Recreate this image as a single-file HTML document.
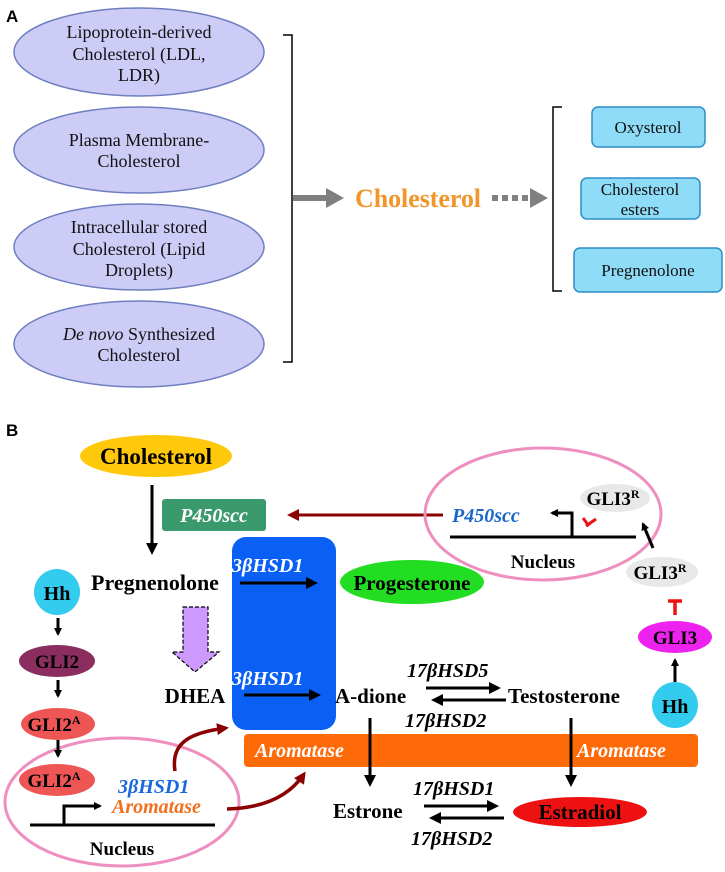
<!DOCTYPE html>
<html><head><meta charset="utf-8"><style>body{margin:0;background:#fff}svg{display:block}</style></head><body>
<svg width="725" height="872" viewBox="0 0 725 872" xmlns="http://www.w3.org/2000/svg">
<defs>
<marker id="ab" markerWidth="8" markerHeight="8" refX="6" refY="4" orient="auto" markerUnits="userSpaceOnUse"><path d="M0,0 L8,4 L0,8 z" fill="#000"/></marker>
<marker id="ar" markerWidth="12" markerHeight="12" refX="9" refY="6" orient="auto" markerUnits="userSpaceOnUse"><path d="M0,0 L12,6 L0,12 z" fill="#8b0000"/></marker>
<marker id="ak" markerWidth="12" markerHeight="12" refX="9" refY="6" orient="auto" markerUnits="userSpaceOnUse"><path d="M0,0 L12,6 L0,12 z" fill="#000"/></marker>
</defs>
<g font-family="Liberation Sans, sans-serif" font-weight="bold" font-size="17"><text x="6" y="22">A</text><text x="6" y="436">B</text></g>
<g fill="#ccccf7" stroke="#6f7fc0" stroke-width="1.5">
<ellipse cx="139" cy="52" rx="125" ry="44"/><ellipse cx="139" cy="150" rx="125" ry="43"/><ellipse cx="139" cy="247" rx="125" ry="43"/><ellipse cx="139" cy="344" rx="125" ry="43"/>
</g>
<g font-family="Liberation Serif, serif" font-size="18" text-anchor="middle" fill="#111">
<text x="139" y="38">Lipoprotein-derived</text><text x="139" y="60">Cholesterol (LDL,</text><text x="139" y="81">LDR)</text>
<text x="139" y="146">Plasma Membrane-</text><text x="139" y="167">Cholesterol</text>
<text x="139" y="233">Intracellular stored</text><text x="139" y="255">Cholesterol (Lipid</text><text x="139" y="276">Droplets)</text>
<text x="139" y="340"><tspan font-style="italic">De novo</tspan> Synthesized</text><text x="139" y="361">Cholesterol</text>
</g>
<path d="M283,35 H292 V362 H283" fill="none" stroke="#000" stroke-width="1.5"/>
<path d="M293,198 H328" stroke="#808080" stroke-width="6"/><path d="M326,188 L344,198 L326,208 z" fill="#808080"/>
<text x="355" y="207" font-family="Liberation Serif, serif" font-weight="bold" font-size="26" fill="#f0962a" textLength="126">Cholesterol</text>
<path d="M492,198 H530" stroke="#808080" stroke-width="6" stroke-dasharray="6,4"/><path d="M530,188 L548,198 L530,208 z" fill="#808080"/>
<path d="M562,107 H553 V291 H562" fill="none" stroke="#000" stroke-width="1.5"/>
<g fill="#8edcf7" stroke="#2e8fc7" stroke-width="1.5">
<rect x="592" y="107" width="113" height="40" rx="6"/><rect x="581" y="178" width="119" height="41" rx="6"/><rect x="574" y="248" width="148" height="44" rx="6"/>
</g>
<g font-family="Liberation Serif, serif" font-size="17" text-anchor="middle" fill="#111">
<text x="648" y="133">Oxysterol</text><text x="640" y="195">Cholesterol</text><text x="640" y="215">esters</text><text x="648" y="276">Pregnenolone</text>
</g>
<!-- Panel B -->
<ellipse cx="156" cy="456" rx="76" ry="21" fill="#ffc80a"/>
<text x="156" y="464" font-family="Liberation Serif, serif" font-weight="bold" font-size="23" text-anchor="middle">Cholesterol</text>
<path d="M152,485 V552" stroke="#000" stroke-width="3" marker-end="url(#ak)"/>
<rect x="162" y="499" width="104" height="32" rx="3" fill="#3a9a6c"/>
<text x="214" y="522" font-family="Liberation Serif, serif" font-weight="bold" font-style="italic" font-size="20" fill="#fff" text-anchor="middle">P450scc</text>
<path d="M443,515 H290" stroke="#8b0000" stroke-width="3" marker-end="url(#ar)"/>
<ellipse cx="543" cy="514" rx="118" ry="66" fill="none" stroke="#ee8fbf" stroke-width="3"/>
<rect x="232" y="537" width="104" height="193" rx="14" fill="#0a5ff5"/>
<rect x="244" y="734" width="454" height="33" rx="4" fill="#ff6a08"/>
<ellipse cx="412" cy="582" rx="72" ry="22" fill="#22dd22"/>
<ellipse cx="580" cy="812" rx="67" ry="15" fill="#ee1111"/>
<circle cx="57" cy="592" r="23" fill="#33ccee"/>
<circle cx="675" cy="705" r="23" fill="#33ccee"/>
<ellipse cx="57" cy="661" rx="38" ry="16" fill="#8b2d5e"/>
<ellipse cx="58" cy="724" rx="37" ry="16" fill="#ee5555"/>
<ellipse cx="122" cy="802" rx="117" ry="64" fill="none" stroke="#ee8fbf" stroke-width="3"/>
<ellipse cx="57" cy="780" rx="38" ry="16" fill="#ee5555"/>
<ellipse cx="675" cy="637" rx="37" ry="16" fill="#ee22ee"/>
<ellipse cx="662" cy="572" rx="36" ry="15" fill="#e8e8e8"/>
<ellipse cx="615" cy="498" rx="35" ry="14" fill="#e8e8e8"/>
<path d="M183,607 H208 V652 H219 L195,672 L172,652 H183 z" fill="#cc99ff" stroke="#000" stroke-width="1.2" stroke-dasharray="4,2"/>
<g stroke="#000" stroke-width="3">
<path d="M240,583 H315" marker-end="url(#ak)"/>
<path d="M244,695 H318" marker-end="url(#ak)"/>
<path d="M426,688 H498" marker-end="url(#ak)"/>
<path d="M506,700 H434" marker-end="url(#ak)"/>
<path d="M370,718 V784" marker-end="url(#ak)"/>
<path d="M571,718 V784" marker-end="url(#ak)"/>
<path d="M424,806 H496" marker-end="url(#ak)"/>
<path d="M504,818 H432" marker-end="url(#ak)"/>
<path d="M58,618 V634" marker-end="url(#ab)"/>
<path d="M58,680 V696" marker-end="url(#ab)"/>
<path d="M58,740 V756" marker-end="url(#ab)"/>
<path d="M675,682 V660" marker-end="url(#ab)"/>
<path d="M653,548 L643,524" marker-end="url(#ab)"/>
<path d="M30,825 H215" />
<path d="M64,825 V806 H100" fill="none" marker-end="url(#ab)"/>
<path d="M450,537 H636"/>
<path d="M572,537 V513 H552" fill="none" marker-end="url(#ab)"/>
</g>
<path d="M675,615 V601 M668,601 H682" stroke="#ee1111" stroke-width="3.5"/>
<path d="M583,518 L589,526 M586,526 L596,519" stroke="#ee1111" stroke-width="3"/>
<path d="M175,771 C170,740 195,732 226,728" fill="none" stroke="#8b0000" stroke-width="3.5" marker-end="url(#ar)"/>
<path d="M227,809 C265,808 290,795 304,774" fill="none" stroke="#8b0000" stroke-width="3.5" marker-end="url(#ar)"/>
<g font-family="Liberation Serif, serif" font-weight="bold" fill="#000" font-size="21">
<text x="155" y="590" text-anchor="middle" font-size="22">Pregnenolone</text>
<text x="57" y="600" text-anchor="middle" font-size="20">Hh</text>
<text x="675" y="713" text-anchor="middle" font-size="20">Hh</text>
<text x="57" y="668" text-anchor="middle" font-size="19">GLI2</text>
<text x="54" y="731" text-anchor="middle" font-size="19">GLI2<tspan font-size="12" dy="-7">A</tspan></text>
<text x="54" y="787" text-anchor="middle" font-size="19">GLI2<tspan font-size="12" dy="-7">A</tspan></text>
<text x="675" y="644" text-anchor="middle" font-size="19">GLI3</text>
<text x="660" y="579" text-anchor="middle" font-size="19">GLI3<tspan font-size="12" dy="-7">R</tspan></text>
<text x="613" y="505" text-anchor="middle" font-size="19">GLI3<tspan font-size="12" dy="-7">R</tspan></text>
<text x="412" y="590" text-anchor="middle">Progesterone</text>
<text x="195" y="703" text-anchor="middle">DHEA</text>
<text x="335" y="703">A-dione</text>
<text x="508" y="703">Testosterone</text>
<text x="333" y="818">Estrone</text>
<text x="580" y="819" text-anchor="middle">Estradiol</text>
<text x="122" y="855" text-anchor="middle" font-size="19">Nucleus</text>
<text x="543" y="568" text-anchor="middle" font-size="19">Nucleus</text>
</g>
<g font-family="Liberation Serif, serif" font-weight="bold" font-style="italic" font-size="20">
<text x="232" y="572" fill="#fff">3βHSD1</text>
<text x="232" y="685" fill="#fff">3βHSD1</text>
<text x="255" y="757" fill="#fff">Aromatase</text>
<text x="577" y="757" fill="#fff">Aromatase</text>
<text x="407" y="677" fill="#000">17βHSD5</text>
<text x="405" y="727" fill="#000">17βHSD2</text>
<text x="413" y="795" fill="#000">17βHSD1</text>
<text x="411" y="845" fill="#000">17βHSD2</text>
<text x="118" y="793" fill="#1a66dd">3βHSD1</text>
<text x="112" y="813" fill="#f07020">Aromatase</text>
<text x="452" y="522" fill="#1a66cc">P450scc</text>
</g>
</svg>
</body></html>
